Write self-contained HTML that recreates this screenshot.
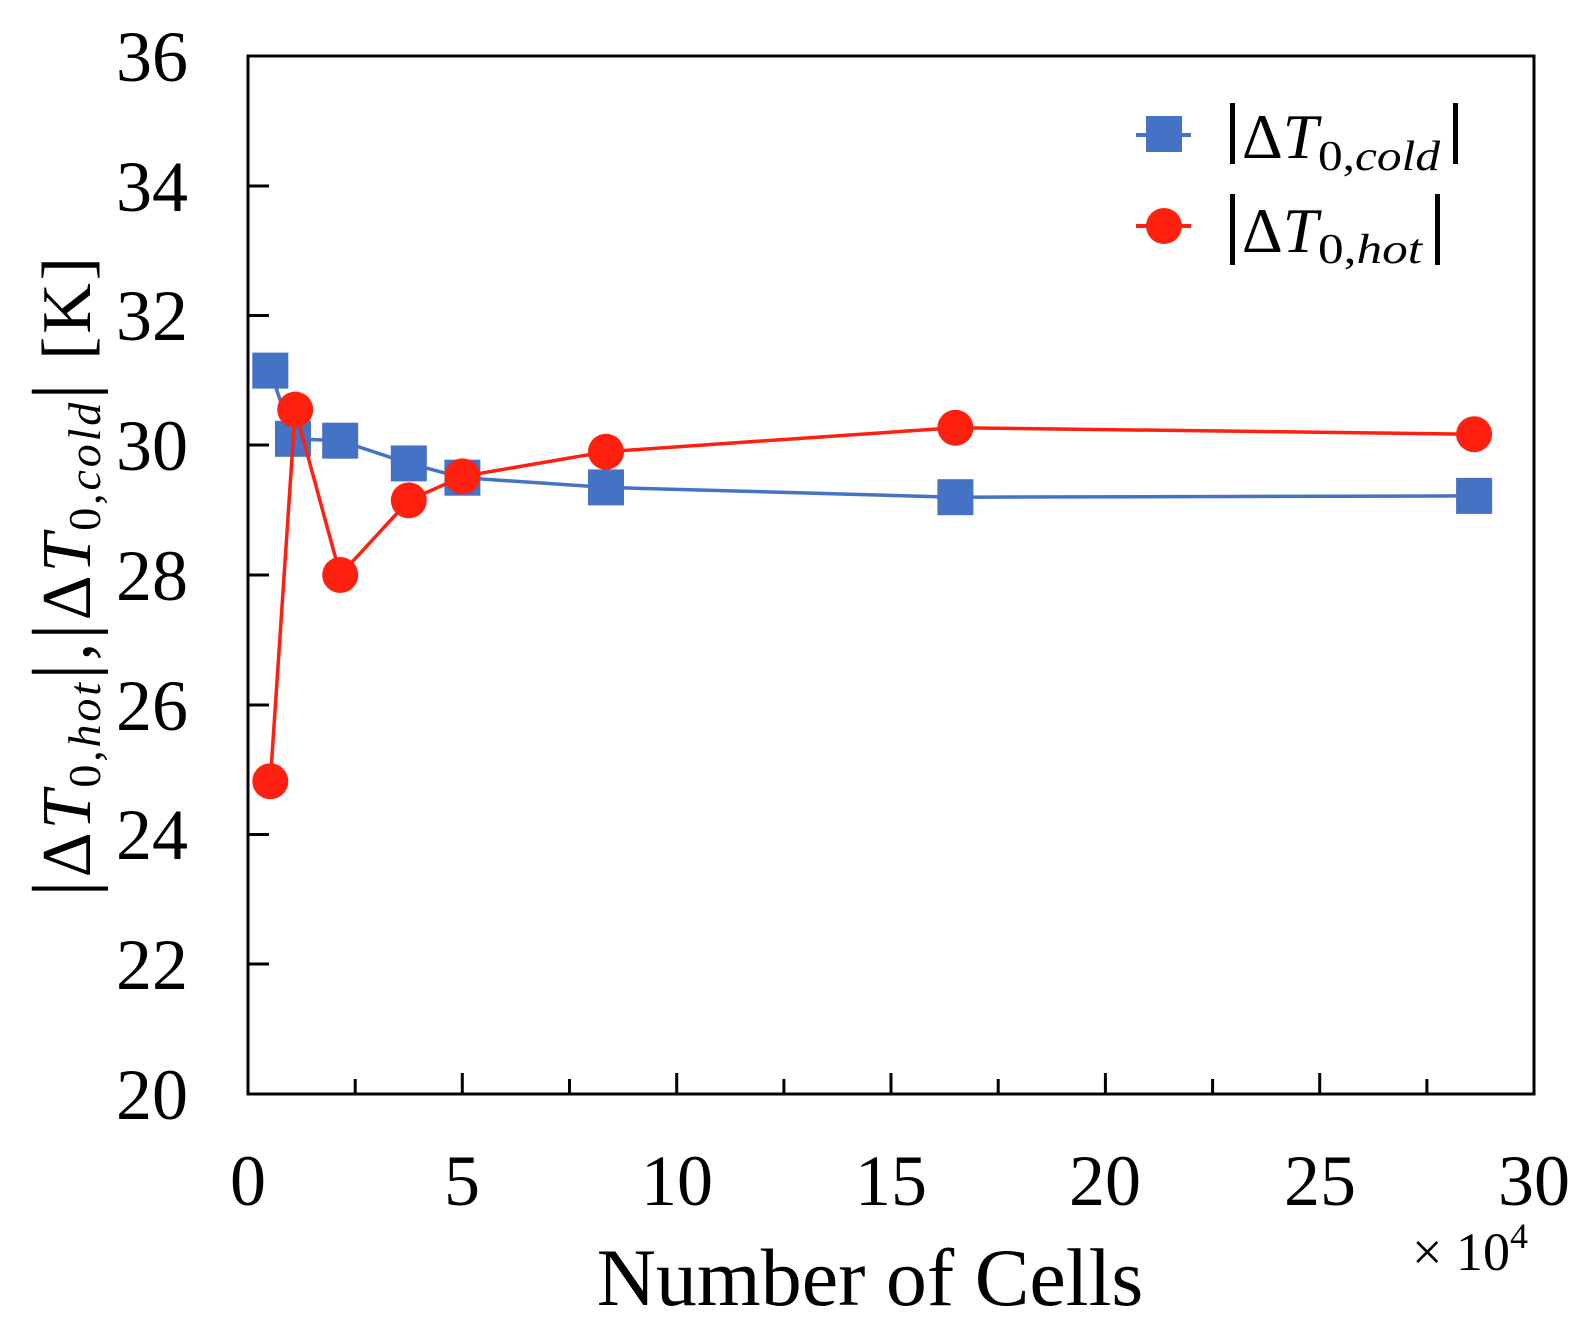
<!DOCTYPE html>
<html><head><meta charset="utf-8"><style>
html,body{margin:0;padding:0;background:#fff;}
svg{display:block;}
text{font-family:"Liberation Serif",serif;fill:#000;}
</style></head><body>
<svg width="1593" height="1332" viewBox="0 0 1593 1332" xmlns="http://www.w3.org/2000/svg">
<rect x="248" y="56" width="1286" height="1038" fill="none" stroke="#000" stroke-width="3"/>
<g stroke="#000" stroke-width="3">
<line x1="248" y1="186" x2="269" y2="186"/>
<line x1="248" y1="315.5" x2="269" y2="315.5"/>
<line x1="248" y1="445" x2="269" y2="445"/>
<line x1="248" y1="575" x2="269" y2="575"/>
<line x1="248" y1="705" x2="269" y2="705"/>
<line x1="248" y1="834.5" x2="269" y2="834.5"/>
<line x1="248" y1="964" x2="269" y2="964"/>
<line x1="462.3" y1="1094" x2="462.3" y2="1073"/>
<line x1="676.7" y1="1094" x2="676.7" y2="1073"/>
<line x1="891" y1="1094" x2="891" y2="1073"/>
<line x1="1105.4" y1="1094" x2="1105.4" y2="1073"/>
<line x1="1319.7" y1="1094" x2="1319.7" y2="1073"/>
<line x1="355.2" y1="1094" x2="355.2" y2="1079"/>
<line x1="569.5" y1="1094" x2="569.5" y2="1079"/>
<line x1="783.9" y1="1094" x2="783.9" y2="1079"/>
<line x1="998.2" y1="1094" x2="998.2" y2="1079"/>
<line x1="1212.6" y1="1094" x2="1212.6" y2="1079"/>
<line x1="1426.9" y1="1094" x2="1426.9" y2="1079"/>
</g>
<g font-size="72" text-anchor="end">
<text x="188" y="81">36</text>
<text x="188" y="211">34</text>
<text x="188" y="340">32</text>
<text x="188" y="470">30</text>
<text x="188" y="600">28</text>
<text x="188" y="730">26</text>
<text x="188" y="859">24</text>
<text x="188" y="989">22</text>
<text x="188" y="1119">20</text>
</g>
<g font-size="72" text-anchor="middle">
<text x="248" y="1205">0</text>
<text x="462" y="1205">5</text>
<text x="677" y="1205">10</text>
<text x="891" y="1205">15</text>
<text x="1105" y="1205">20</text>
<text x="1320" y="1205">25</text>
<text x="1534" y="1205">30</text>
</g>
<text x="1412" y="1270" font-size="54">× 10<tspan font-size="36" dy="-22">4</tspan></text>
<text x="870" y="1305" font-size="82" text-anchor="middle">Number of Cells</text>
<g transform="translate(90,577) rotate(-90)">
<text x="0" y="0" font-size="70" text-anchor="middle" textLength="640" lengthAdjust="spacing"><tspan font-size="84">|</tspan>Δ<tspan font-style="italic">T</tspan><tspan font-size="46" dy="10">0,</tspan><tspan font-size="46" font-style="italic">hot</tspan><tspan font-size="84" dy="-10">|</tspan>,<tspan font-size="84">|</tspan>Δ<tspan font-style="italic">T</tspan><tspan font-size="46" dy="10">0,</tspan><tspan font-size="46" font-style="italic">cold</tspan><tspan font-size="84" dy="-10">|</tspan>    [K]</text>
</g>
<polyline fill="none" stroke="#4472c4" stroke-width="3.5" points="270.3,370.6 293,438.8 340.2,440.7 408.8,463.4 462.4,477.7 606,487.4 955.4,497.2 1474.1,495.9"/>
<g fill="#4472c4">
<rect x="252.3" y="352.6" width="36" height="36"/>
<rect x="275" y="420.8" width="36" height="36"/>
<rect x="322.2" y="422.7" width="36" height="36"/>
<rect x="390.8" y="445.4" width="36" height="36"/>
<rect x="444.4" y="459.7" width="36" height="36"/>
<rect x="588" y="469.4" width="36" height="36"/>
<rect x="937.4" y="479.2" width="36" height="36"/>
<rect x="1456.1" y="477.9" width="36" height="36"/>
</g>
<polyline fill="none" stroke="#ff2010" stroke-width="3.5" points="270.3,781.3 295.2,409.6 340.2,575 408.8,500.4 462.4,476.4 606,451.7 955.4,427.7 1474.1,434.2"/>
<g fill="#ff2010">
<circle cx="270.3" cy="781.3" r="18"/>
<circle cx="295.2" cy="409.6" r="18"/>
<circle cx="340.2" cy="575" r="18"/>
<circle cx="408.8" cy="500.4" r="18"/>
<circle cx="462.4" cy="476.4" r="18"/>
<circle cx="606" cy="451.7" r="18"/>
<circle cx="955.4" cy="427.7" r="18"/>
<circle cx="1474.1" cy="434.2" r="18"/>
</g>
<line x1="1136" y1="135" x2="1191" y2="135" stroke="#4472c4" stroke-width="4"/>
<rect x="1146" y="116" width="36" height="36" fill="#4472c4"/>
<line x1="1136" y1="226" x2="1191" y2="226" stroke="#ff2010" stroke-width="4"/>
<circle cx="1164" cy="226" r="18" fill="#ff2010"/>
<rect x="1230" y="103" width="5" height="61"/>
<text x="1242" y="158" font-size="64" textLength="76" lengthAdjust="spacingAndGlyphs">Δ<tspan font-style="italic">T</tspan></text>
<text x="1318" y="170" font-size="42" textLength="122" lengthAdjust="spacingAndGlyphs">0,<tspan font-style="italic">cold</tspan></text>
<rect x="1453" y="103" width="5" height="61"/>
<rect x="1230" y="194" width="5" height="71"/>
<text x="1242" y="252" font-size="64" textLength="76" lengthAdjust="spacingAndGlyphs">Δ<tspan font-style="italic">T</tspan></text>
<text x="1318" y="263" font-size="42" textLength="104" lengthAdjust="spacingAndGlyphs">0,<tspan font-style="italic">hot</tspan></text>
<rect x="1435" y="194" width="5" height="71"/>
</svg>
</body></html>
